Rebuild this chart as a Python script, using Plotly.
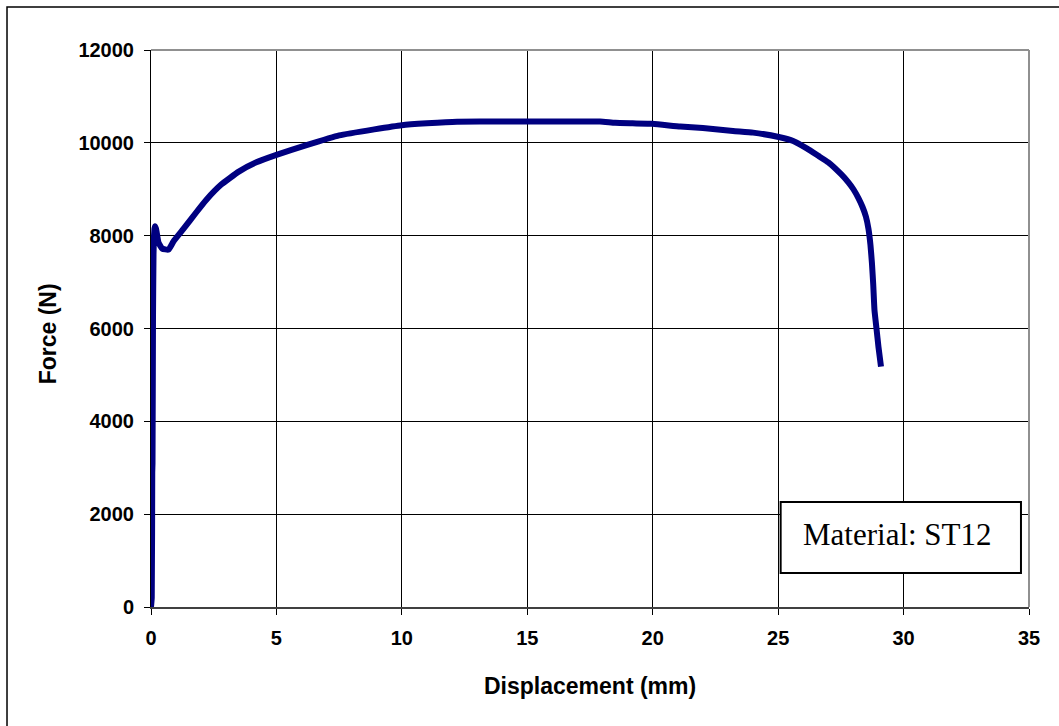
import plotly.graph_objects as go

# Tensile test record: displacement (mm) vs. force (N)
displacement_mm = [0, 0.03, 0.05, 0.06, 0.08, 0.10, 0.12, 0.15, 0.20, 0.30, 0.45, 0.70,
                   0.90, 1.3, 1.8, 2.2, 2.8, 3.5, 4.2, 5.0, 6.2, 7.5, 8.9, 10.0, 11.0,
                   12.2, 14.0, 16.0, 17.9, 18.5, 19.2, 20.0, 21.1, 22.0, 23.2, 24.0,
                   25.07, 25.6, 26.14, 26.6, 27.0, 27.5, 27.8, 28.0, 28.2, 28.36, 28.5,
                   28.6, 28.68, 28.74, 28.79, 28.84, 28.92, 29.0, 29.1]
force_n = [0, 200, 2900, 3100, 6300, 7600, 8000, 8200, 8150, 7850, 7720, 7700,
           7880, 8150, 8500, 8770, 9100, 9380, 9580, 9740, 9950, 10160, 10290, 10380, 10420,
           10455, 10460, 10460, 10460, 10430, 10420, 10410, 10350, 10320, 10255, 10220,
           10120, 10040, 9880, 9720, 9580, 9330, 9150, 9000, 8810, 8623, 8408,
           8150, 7800, 7400, 6950, 6400, 6000, 5600, 5180]

x_ticks = [0, 5, 10, 15, 20, 25, 30, 35]
y_ticks = [0, 2000, 4000, 6000, 8000, 10000, 12000]

label_text = "Material: ST12"
label_box_x = [25.1, 34.68]
label_box_y = [735, 2262]

fig = go.Figure()
fig.add_trace(go.Scatter(
    x=displacement_mm, y=force_n, mode="lines",
    line=dict(color="#000080", width=6, shape="spline", smoothing=0.4),
    showlegend=False, hoverinfo="skip",
))

tick_font = dict(family="Liberation Sans, Arial", size=20, color="black")
title_font = dict(family="Liberation Sans, Arial", size=23, color="black")

fig.update_layout(
    width=1059, height=726,
    margin=dict(l=151, r=30, t=50, b=119),
    paper_bgcolor="white", plot_bgcolor="white",
    showlegend=False,
    xaxis=dict(
        range=[0, 35], tickvals=x_ticks, ticktext=[f"<b>{v}</b>" for v in x_ticks],
        tickfont=tick_font, showgrid=True, gridcolor="black", gridwidth=1,
        zeroline=False, showline=True, linecolor="#404040", linewidth=2,
        ticks="outside", ticklen=6, tickcolor="black", tickwidth=1,
        ticklabelstandoff=6,
    ),
    yaxis=dict(
        range=[0, 12000], tickvals=y_ticks, ticktext=[f"<b>{v}</b>" for v in y_ticks],
        tickfont=tick_font, showgrid=True, gridcolor="black", gridwidth=1,
        zeroline=False, showline=True, linecolor="black", linewidth=1,
        ticks="outside", ticklen=6, tickcolor="black", tickwidth=1,
        ticklabelstandoff=6,
    ),
    shapes=[
        # gray frame on top and right of the plotting area
        dict(type="line", xref="paper", yref="paper", x0=0, x1=1, y0=1, y1=1,
             line=dict(color="#909090", width=2)),
        dict(type="line", xref="paper", yref="paper", x0=1, x1=1, y0=0, y1=1,
             line=dict(color="#909090", width=2)),
        # chart-area border
        dict(type="rect", xref="paper", yref="paper", x0=-0.164, x1=1.05,
             y0=-0.23, y1=1.077, line=dict(color="black", width=1.5),
             fillcolor="rgba(0,0,0,0)", layer="below"),
        # material label box
        dict(type="rect", xref="x", yref="y",
             x0=label_box_x[0], x1=label_box_x[1], y0=label_box_y[0], y1=label_box_y[1],
             line=dict(color="black", width=2), fillcolor="white", layer="above"),
    ],
    annotations=[
        dict(x=sum(label_box_x) / 2 - 0.15, y=sum(label_box_y) / 2 + 60, xref="x", yref="y",
             text=label_text, showarrow=False,
             font=dict(family="Liberation Serif, Times New Roman", size=31, color="black")),
        # axis titles
        dict(x=0.5, y=-0.142, xref="paper", yref="paper", text="<b>Displacement (mm)</b>",
             showarrow=False, font=title_font, xanchor="center", yanchor="middle"),
        dict(x=-0.117, y=0.49, xref="paper", yref="paper", text="<b>Force (N)</b>",
             showarrow=False, font=title_font, textangle=-90,
             xanchor="center", yanchor="middle"),
    ],
)

fig.write_html("out.html")
